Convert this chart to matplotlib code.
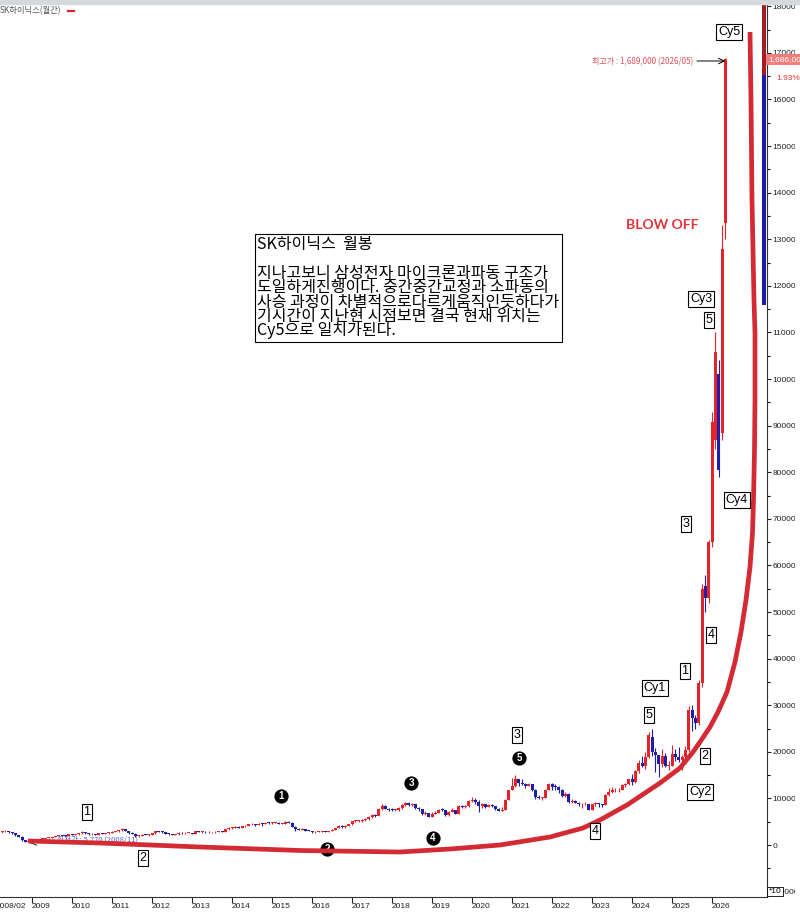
import numpy as np
import pandas as pd
import matplotlib
matplotlib.use('Agg')
import matplotlib.pyplot as plt
from matplotlib.lines import Line2D
from matplotlib.patches import Rectangle
from matplotlib.transforms import Bbox

plt.rcParams['font.family'] = ['Liberation Sans', 'Noto Sans CJK KR', 'DejaVu Sans']
KR = ['Noto Sans CJK KR', 'DejaVu Sans']

# SK하이닉스 monthly candles 2008/02 .. 2026/05, price in units of 10 won (axis "*10")
months = pd.period_range('2008-02', '2026-05', freq='M')

opens = [
    2300, 2400, 2800, 2900, 3000, 2700, 2500, 2100, 1800, 1000, 750,
    850, 950, 1000, 1250, 1350, 1450, 1500, 1700, 1900, 2100, 1950, 1900,
    2300, 2200, 2300, 2550, 2700, 2500, 2300, 2350, 2150, 2500, 2450, 2550,
    2600, 2800, 2950, 3150, 3400, 3000, 2500, 2450, 1950, 2000, 2200, 2150,
    2150, 2500, 2900, 2800, 2750, 2400, 2350, 2200, 2300, 2600, 2500, 2600,
    2600, 2400, 2900, 2800, 2850, 2700, 2800, 2700, 2850, 2950, 2850, 3400,
    3700, 3700, 3900, 3700, 4000, 4100, 4400, 4400, 4300, 4600, 4500, 4800,
    4700, 4800, 4800, 4500, 4600, 5000, 4800, 3900, 3500, 3300, 3400, 3100,
    3000, 2700, 2850, 2850, 2900, 2800, 3000, 3250, 3650, 4150, 3800, 4100,
    4400, 5100, 5100, 5100, 5300, 5500, 6000, 6500, 6300, 7800, 8400, 7800,
    7600, 7500, 7500, 7900, 8600, 9000, 8600, 8800, 8000, 7700, 6700, 6800,
    6100, 6700, 6900, 7600, 7500, 6400, 7100, 7500, 6700, 8300, 8200, 8300,
    9400, 9600, 9300, 8300, 8700, 8200, 8500, 8300, 7700, 7400, 7600, 9700,
    11800, 12700, 14100, 13300, 13100, 12700, 13000, 11800, 10300, 10100, 10100, 11800,
    13100, 12500, 12400, 11800, 10500, 11000, 9200, 9400, 9100, 8700, 8700, 8800,
    7600, 8800, 8900, 8800, 8600, 10700, 11300, 11700, 11700, 11900, 12800, 13000,
    14100, 13600, 15900, 17600, 17000, 18900, 23200, 19900, 19300, 17400, 19000, 17000,
    17000, 19500, 18800, 18200, 18900, 20400, 29000, 27250, 26200, 34800, 55500, 53000,
    65000, 87000, 101000, 88400, 133500,
]
highs = [
    2550, 2950, 3100, 3200, 3050, 2800, 2600, 2250, 1850, 1100, 950,
    1050, 1100, 1300, 1450, 1550, 1600, 1750, 2000, 2200, 2150, 2050, 2350,
    2450, 2400, 2650, 2900, 2750, 2600, 2500, 2400, 2600, 2600, 2650, 2800,
    2950, 3100, 3300, 3550, 3450, 3050, 2700, 2500, 2200, 2350, 2350, 2300,
    2600, 3000, 3050, 2900, 2800, 2550, 2450, 2400, 2700, 2700, 2700, 2750,
    2650, 2950, 3000, 3000, 2950, 2900, 2850, 2950, 3100, 3050, 3500, 3800,
    3900, 4000, 4000, 4100, 4250, 4550, 4650, 4500, 4750, 4700, 4950, 4900,
    4950, 5000, 4900, 4750, 5150, 5100, 4850, 4000, 3650, 3550, 3450, 3200,
    3050, 2950, 3000, 3050, 2950, 3050, 3350, 3750, 4250, 4200, 4250, 4550,
    5200, 5300, 5300, 5500, 5800, 6200, 6700, 6600, 8000, 8700, 8600, 7900,
    7900, 7800, 8100, 8800, 9300, 9200, 9000, 8900, 8200, 7800, 7200, 6900,
    7000, 7300, 7800, 8000, 7600, 7300, 8000, 7600, 8500, 8500, 8600, 9600,
    10200, 10000, 9600, 9100, 8900, 8800, 8900, 8400, 8000, 8200, 9900, 11900,
    14300, 15000, 14200, 14100, 13300, 13200, 13100, 12100, 10800, 10300, 12000, 13300,
    13300, 13100, 12600, 12000, 11300, 11100, 9800, 9700, 9200, 9000, 9200, 8900,
    8900, 9300, 9100, 8900, 10900, 12300, 12500, 12200, 12300, 13000, 13300, 14200,
    15300, 16200, 18200, 19000, 20000, 24300, 24800, 20900, 19400, 20500, 19700, 18000,
    21500, 20500, 21000, 19300, 21200, 29800, 30000, 28000, 35500, 56000, 58000, 65500,
    93000, 110000, 104000, 133000, 168900,
]
lows = [
    2150, 2300, 2650, 2750, 2600, 2350, 2000, 1700, 850, 577, 700,
    800, 880, 950, 1150, 1300, 1350, 1450, 1650, 1850, 1900, 1800, 1850,
    2100, 2050, 2200, 2450, 2300, 2150, 2200, 2050, 2100, 2300, 2350, 2450,
    2500, 2700, 2800, 3050, 2900, 2400, 2350, 1700, 1800, 1900, 2050, 2000,
    2100, 2450, 2700, 2600, 2300, 2200, 2100, 2150, 2250, 2400, 2400, 2500,
    2300, 2350, 2700, 2650, 2600, 2550, 2600, 2650, 2800, 2750, 2800, 3300,
    3500, 3600, 3600, 3650, 3900, 4000, 4200, 4100, 4250, 4150, 4400, 4550,
    4550, 4650, 4450, 4400, 4550, 4650, 3800, 3100, 3150, 3200, 3050, 2900,
    2600, 2650, 2750, 2800, 2700, 2750, 2950, 3200, 3550, 3700, 3750, 4050,
    4350, 4900, 4850, 4900, 5200, 5400, 5900, 6000, 6200, 7600, 7700, 7400,
    7300, 7200, 7300, 7700, 8400, 8400, 8400, 7800, 7400, 6500, 6500, 6000,
    6000, 6600, 6800, 7300, 6300, 6300, 7000, 6600, 6700, 7900, 8000, 8200,
    9300, 8900, 7100, 8000, 8000, 8100, 8100, 7600, 7200, 7300, 7500, 9600,
    11700, 12400, 12700, 12800, 12200, 12600, 11600, 9800, 9800, 9700, 10000, 11700,
    11800, 11900, 11200, 10300, 10300, 9000, 9000, 9000, 8300, 8000, 8500, 7500,
    7500, 8400, 8200, 8100, 8500, 10500, 11200, 11300, 11400, 11900, 12400, 12900,
    12800, 13300, 15500, 16700, 16300, 18600, 19200, 15600, 14500, 16800, 16800, 16100,
    16900, 18000, 17800, 16200, 18600, 20000, 24500, 25000, 25800, 34000, 50000, 52000,
    64000, 85000, 79000, 87000, 130000,
]
closes = [
    2400, 2800, 2900, 3000, 2700, 2500, 2100, 1800, 1000, 750, 850,
    950, 1000, 1250, 1350, 1450, 1500, 1700, 1900, 2100, 1950, 1900, 2300,
    2200, 2300, 2550, 2700, 2500, 2300, 2350, 2150, 2500, 2450, 2550, 2600,
    2800, 2950, 3150, 3400, 3000, 2500, 2450, 1950, 2000, 2200, 2150, 2150,
    2500, 2900, 2800, 2750, 2400, 2350, 2200, 2300, 2600, 2500, 2600, 2600,
    2400, 2900, 2800, 2850, 2700, 2800, 2700, 2850, 2950, 2850, 3400, 3700,
    3700, 3900, 3700, 4000, 4100, 4400, 4400, 4300, 4600, 4500, 4800, 4700,
    4800, 4800, 4500, 4600, 5000, 4800, 3900, 3500, 3300, 3400, 3100, 3000,
    2700, 2850, 2850, 2900, 2800, 3000, 3250, 3650, 4150, 3800, 4100, 4400,
    5100, 5100, 5100, 5300, 5500, 6000, 6500, 6300, 7800, 8400, 7800, 7600,
    7500, 7500, 7900, 8600, 9000, 8600, 8800, 8000, 7700, 6700, 6800, 6100,
    6700, 6900, 7600, 7500, 6400, 7100, 7500, 6700, 8300, 8200, 8300, 9400,
    9600, 9300, 8300, 8700, 8200, 8500, 8300, 7700, 7400, 7600, 9700, 11800,
    12700, 14100, 13300, 13100, 12700, 13000, 11800, 10300, 10100, 10100, 11800, 13100,
    12500, 12400, 11800, 10500, 11000, 9200, 9400, 9100, 8700, 8700, 8800, 7600,
    8800, 8900, 8800, 8600, 10700, 11300, 11700, 11700, 11900, 12800, 13000, 14100,
    13600, 15900, 17600, 17000, 18900, 23600, 19900, 19300, 17400, 19000, 17000, 17000,
    19500, 18800, 18200, 18900, 20400, 29000, 27250, 26200, 34800, 55000, 53000, 65000,
    90800, 105800, 80500, 128000, 168600,
]

# hand drawn cycle curve (x in years, y in price units)
curve_x = [2008.9, 2010.7, 2013.2, 2015.7, 2018.2, 2019.45, 2020.7, 2021.95, 2022.775,
           2023.2, 2023.875, 2024.7, 2025.2, 2025.525, 2025.7, 2025.95, 2026.15, 2026.375,
           2026.575, 2026.725, 2026.85, 2026.95, 2027.0125, 2027.0375, 2027.0625, 2027.075,
           2027.075, 2027.05, 2027.0, 2026.975, 2026.95]
curve_y = [858, 429, -429, -1180, -1502, -858, 0, 1717, 3648,
           5365, 8584, 13305, 16524, 19958, 22104, 25323, 28542, 32834,
           39272, 45710, 52577, 59659, 66955, 74037, 84767, 95497,
           109875, 116957, 138417, 159877, 174470]

# wave labels
box_labels = ['1', '2', '3', '4', '5', 'Cy1', '1', '2', 'Cy2', '4', '3', 'Cy4', '5', 'Cy3', 'Cy5']
box_x = [2010.375, 2011.775, 2021.125, 2023.075, 2024.425, 2024.575, 2025.325, 2025.825,
         2025.7, 2025.975, 2025.35, 2026.625, 2025.925, 2025.725, 2026.425]
box_y = [7080, -2790, 23600, 3000, 27900, 33700, 37340, 19100,
         11370, 45070, 68900, 74040, 112700, 117200, 174470]
circle_labels = ['1', '2', '3', '4', '5']
circle_x = [2015.225, 2016.375, 2018.475, 2019.025, 2021.175]
circle_y = [10515, -858, 13305, 1502, 18670]

# price-axis indicator bar
bar_red = [165200, 181000]
bar_blue = [115900, 165200]

year_ticks = [2008 + 1 / 12] + list(range(2009, 2027))
year_labels = ['2008/02'] + [str(y) for y in range(2009, 2027)]

UP = '#e3242b'
DOWN = '#1e1ea8'

fig = plt.figure(figsize=(8, 9.18), dpi=100)
ax = fig.add_axes([-8 / 800, 21 / 918, 775 / 800, 893 / 918])
ax.set_xlim(2008.0, 2027.375)
ax.set_ylim(-11159, 180479)

x = np.array([p.year + (p.month - 1) / 12 for p in months])
o, h, l, c = (np.array(v, dtype=float) for v in (opens, highs, lows, closes))
col = np.where(c >= o, UP, DOWN)
ax.vlines(x, l, h, colors=col, lw=0.8, zorder=2)
body = np.maximum(np.abs(c - o), 160)
ax.bar(x, body, bottom=np.minimum(o, c), width=0.075, color=col, lw=0, zorder=3)

ax.vlines([2027.3], [bar_red[0]], [bar_red[1]], colors='#a51d24', lw=2.9, zorder=3)
ax.vlines([2027.3], [bar_blue[0]], [bar_blue[1]], colors='#1c1ca8', lw=2.9, zorder=3)

# low / high notes
ax.text(2009.625, 1073, '최저가 : 5,770 (2008/11)', fontsize=5.5, color='#6060c0',
        family=KR, va='center', ha='left', zorder=3)
ax.annotate('', xy=(2008.95, 429), xytext=(2009.575, 858),
            arrowprops=dict(arrowstyle='->', color='black', lw=0.6, shrinkA=0, shrinkB=0), zorder=3)
ax.text(2025.525, 168030, '최고가 : 1,689,000 (2026/05)', fontsize=5.8, color='#e0505a',
        family=KR, va='center', ha='right')
ax.annotate('', xy=(2026.33, 168250), xytext=(2025.625, 168250),
            arrowprops=dict(arrowstyle='->', color='black', lw=0.7, shrinkA=0, shrinkB=0))

ax.plot(curve_x, curve_y, color='#d42a33', lw=3.4, solid_capstyle='butt',
        solid_joinstyle='round', zorder=5)

ax.scatter(circle_x, circle_y, s=105, c='black', lw=0, zorder=4)
for t, cx, cy in zip(circle_labels, circle_x, circle_y):
    ax.text(cx, cy, t, color='white', fontsize=7, fontweight='bold',
            ha='center', va='center', zorder=4.5)

for t, bx, by in zip(box_labels, box_x, box_y):
    ax.text(bx, by, t, fontsize=9, ha='center', va='center', color='black', zorder=6,
            bbox=dict(boxstyle='square,pad=0.15', fc='white', ec='black', lw=0.8))

note = ('SK하이닉스  월봉\n\n'
        '지나고보니 삼성전자 마이크론과파동 구조가\n'
        '도일하게진행이다. 중간중간교정과 소파동의\n'
        '사승 과정이 차별적으로다르게움직인듯하다가\n'
        '기시간이 지난현 시점보면 결국 현재 위치는\n'
        'Cy5으로 일치가된다.')
ax.text(2014.625, 130700, note, fontsize=11.5, family=KR, va='top', ha='left',
        linespacing=0.8, zorder=6,
        bbox=dict(boxstyle='square,pad=0.15', fc='white', ec='black', lw=0.8))

ax.text(2024.75, 133050, 'BLOW OFF', fontsize=10, family=['Lato', 'DejaVu Sans'],
        fontweight='bold', color='#e2343a', ha='center', va='center')

# axes styling
for s in ('left', 'top'):
    ax.spines[s].set_visible(False)
for s in ('bottom', 'right'):
    ax.spines[s].set_color('#333333')
    ax.spines[s].set_linewidth(0.8)

ax.set_xticks(year_ticks)
ax.set_xticklabels(year_labels)
for lab in ax.get_xticklabels():
    lab.set_ha('left')
ax.tick_params(axis='x', length=4, width=0.8, pad=0.5, labelsize=6, colors='#222222')

ax.yaxis.tick_right()
ax.set_yticks(np.arange(-10000, 180001, 10000))
ax.set_yticks(np.arange(-5000, 180001, 10000), minor=True)
ax.set_yticklabels([str(v) for v in range(-10000, 180001, 10000)])
ax.tick_params(axis='y', which='major', length=3, width=0.8, pad=1, labelsize=6, colors='#222222')
ax.tick_params(axis='y', which='minor', length=2, width=0.8)
clip = Bbox([[0, 0], [795, 918]])
for lab in ax.get_yticklabels():
    lab.set_clip_box(clip)
    lab.set_clip_on(True)

ax.text(1.002, -10000, '*10', transform=ax.get_yaxis_transform(), fontsize=6,
        ha='left', va='center', zorder=7, clip_on=False,
        bbox=dict(boxstyle='square,pad=0.15', fc='white', ec='black', lw=0.6))

# last price tag
ax.text(1.002, 168600, '1,686,000', transform=ax.get_yaxis_transform(), fontsize=6,
        color='white', ha='left', va='center', clip_on=False,
        bbox=dict(boxstyle='square,pad=0.25', fc='#f07c7c', ec='none'))
ax.text(1.012, 164500, '1.93%', transform=ax.get_yaxis_transform(), fontsize=6,
        color='#e03a3a', ha='left', va='center', clip_on=False)

# window header
fig.patches.append(Rectangle((0, 914 / 918), 1, 4 / 918, transform=fig.transFigure,
                             color='#d5d9dc', zorder=0))
fig.text(0.0, 1 - 11 / 918, 'SK하이닉스(월간)', fontsize=6, color='#555555',
         family=KR, va='center', ha='left')
fig.add_artist(Line2D([68 / 800, 74 / 800], [1 - 11 / 918] * 2, color='#e3242b', lw=1.6,
                      transform=fig.transFigure))

fig.savefig('out.png', dpi=100)
